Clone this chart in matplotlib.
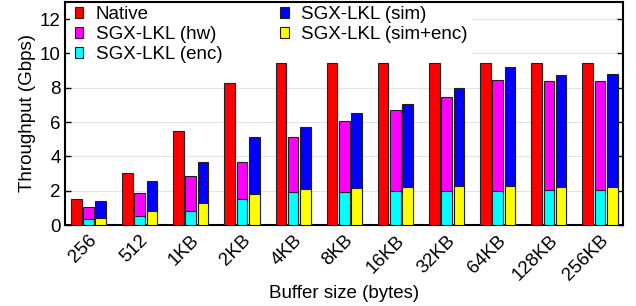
import matplotlib
matplotlib.use("Agg")
import matplotlib.pyplot as plt
import numpy as np
from matplotlib.patches import Patch

plt.rcParams['font.family'] = ['Liberation Sans', 'DejaVu Sans']

categories = ["256", "512", "1KB", "2KB", "4KB", "8KB", "16KB", "32KB", "64KB", "128KB", "256KB"]
native  = [1.52, 3.02, 5.50, 8.28, 9.45, 9.45, 9.45, 9.45, 9.45, 9.45, 9.45]
hw      = [1.07, 1.85, 2.85, 3.66, 5.15, 6.04, 6.71, 7.49, 8.48, 8.42, 8.40]
enc     = [0.33, 0.53, 0.82, 1.54, 1.95, 1.91, 2.01, 2.01, 2.00, 2.03, 2.03]
sim     = [1.40, 2.57, 3.66, 5.11, 5.73, 6.53, 7.06, 7.99, 9.22, 8.75, 8.81]
sim_enc = [0.43, 0.80, 1.31, 1.79, 2.11, 2.14, 2.24, 2.26, 2.28, 2.24, 2.24]

FS = 13.5
fig = plt.figure(figsize=(6.36, 3.06), dpi=100)
ax = fig.add_axes([65/636, 1 - 225/306, (623-65)/636, (225-2)/306])

x = np.arange(len(categories))
w = 0.208
off = 0.24
ec = dict(edgecolor='#202020', linewidth=0.8, zorder=3)
ax.bar(x - off, native, w, color='#ff0000', **ec)
ax.bar(x, hw, w, color='#ff00ff', **ec)
ax.bar(x, enc, w, color='#00ffff', **ec)
ax.bar(x + off, sim, w, color='#0000ff', **ec)
ax.bar(x + off, sim_enc, w, color='#ffff00', **ec)

ax.set_xlim(-0.46, 10.45)
ax.set_ylim(0, 13)
ax.set_yticks(np.arange(0, 13, 2))
ax.set_xticks(x)
ax.set_xticklabels(categories, rotation=45, ha='right', va='top', rotation_mode='anchor')
ax.tick_params(axis='x', length=0, labelsize=FS, pad=5)
ax.tick_params(axis='y', direction='in', length=4, right=True, labelsize=FS, width=1, pad=3)
for y in range(2, 13, 2):
    ax.axhline(y, color='#e3e3e3', linewidth=0.8, zorder=0)
for s in ax.spines.values():
    s.set_linewidth(1.5)

ax.set_ylabel("Throughput (Gbps)", fontsize=FS, labelpad=3)
ax.set_xlabel("Buffer size (bytes)", fontsize=FS, labelpad=1)

labels = ["Native", "SGX-LKL (hw)", "SGX-LKL (enc)", "SGX-LKL (sim)", "SGX-LKL (sim+enc)"]
colors = ['#ff0000', '#ff00ff', '#00ffff', '#0000ff', '#ffff00']
handles = [Patch(facecolor=c, edgecolor='#202020', linewidth=0.8) for c in colors]
leg = ax.legend(handles, labels, ncol=2, loc='upper left', bbox_to_anchor=(0.006, 1.01),
                fontsize=FS, frameon=True, fancybox=False, framealpha=1,
                edgecolor='none', handlelength=0.45, handleheight=0.5,
                handletextpad=0.65, columnspacing=3.1, labelspacing=0.16,
                borderpad=0.25, borderaxespad=0.1)
leg.set_zorder(2)

fig.savefig("out.png", dpi=100)
